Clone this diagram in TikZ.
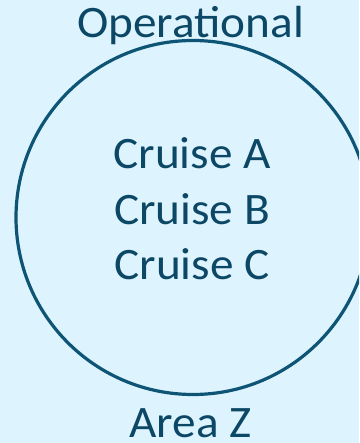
\documentclass[tikz,border=0pt]{standalone}
\usepackage{fontspec}
\setmainfont{Carlito}
\definecolor{bg}{HTML}{DDF4FE}
\definecolor{ink}{HTML}{0C4866}
\definecolor{ring}{HTML}{0E5475}
\begin{document}
\begin{tikzpicture}[x=1bp,y=-1bp,
  lbl/.style={text=ink,font=\fontsize{45bp}{55bp}\selectfont,anchor=base,inner sep=0pt,xscale=1.05}]
\useasboundingbox[fill=bg] (0,0) rectangle (359,443);
\begin{scope}
\clip (0,0) rectangle (359,443);
\node[draw=ring,line width=3.2bp,circle,minimum size=354bp,inner sep=0pt] (c) at (193,217.5) {};
\end{scope}
\node[lbl] (op) at (190.5,38) {Operational};
\node[lbl] (a) at (192,169) {Cruise A};
\node[lbl] (b) at (192,224) {Cruise B};
\node[lbl] (cc) at (192,279) {Cruise C};
\node[lbl] (z) at (190.5,437) {Area Z};
\end{tikzpicture}
\end{document}
